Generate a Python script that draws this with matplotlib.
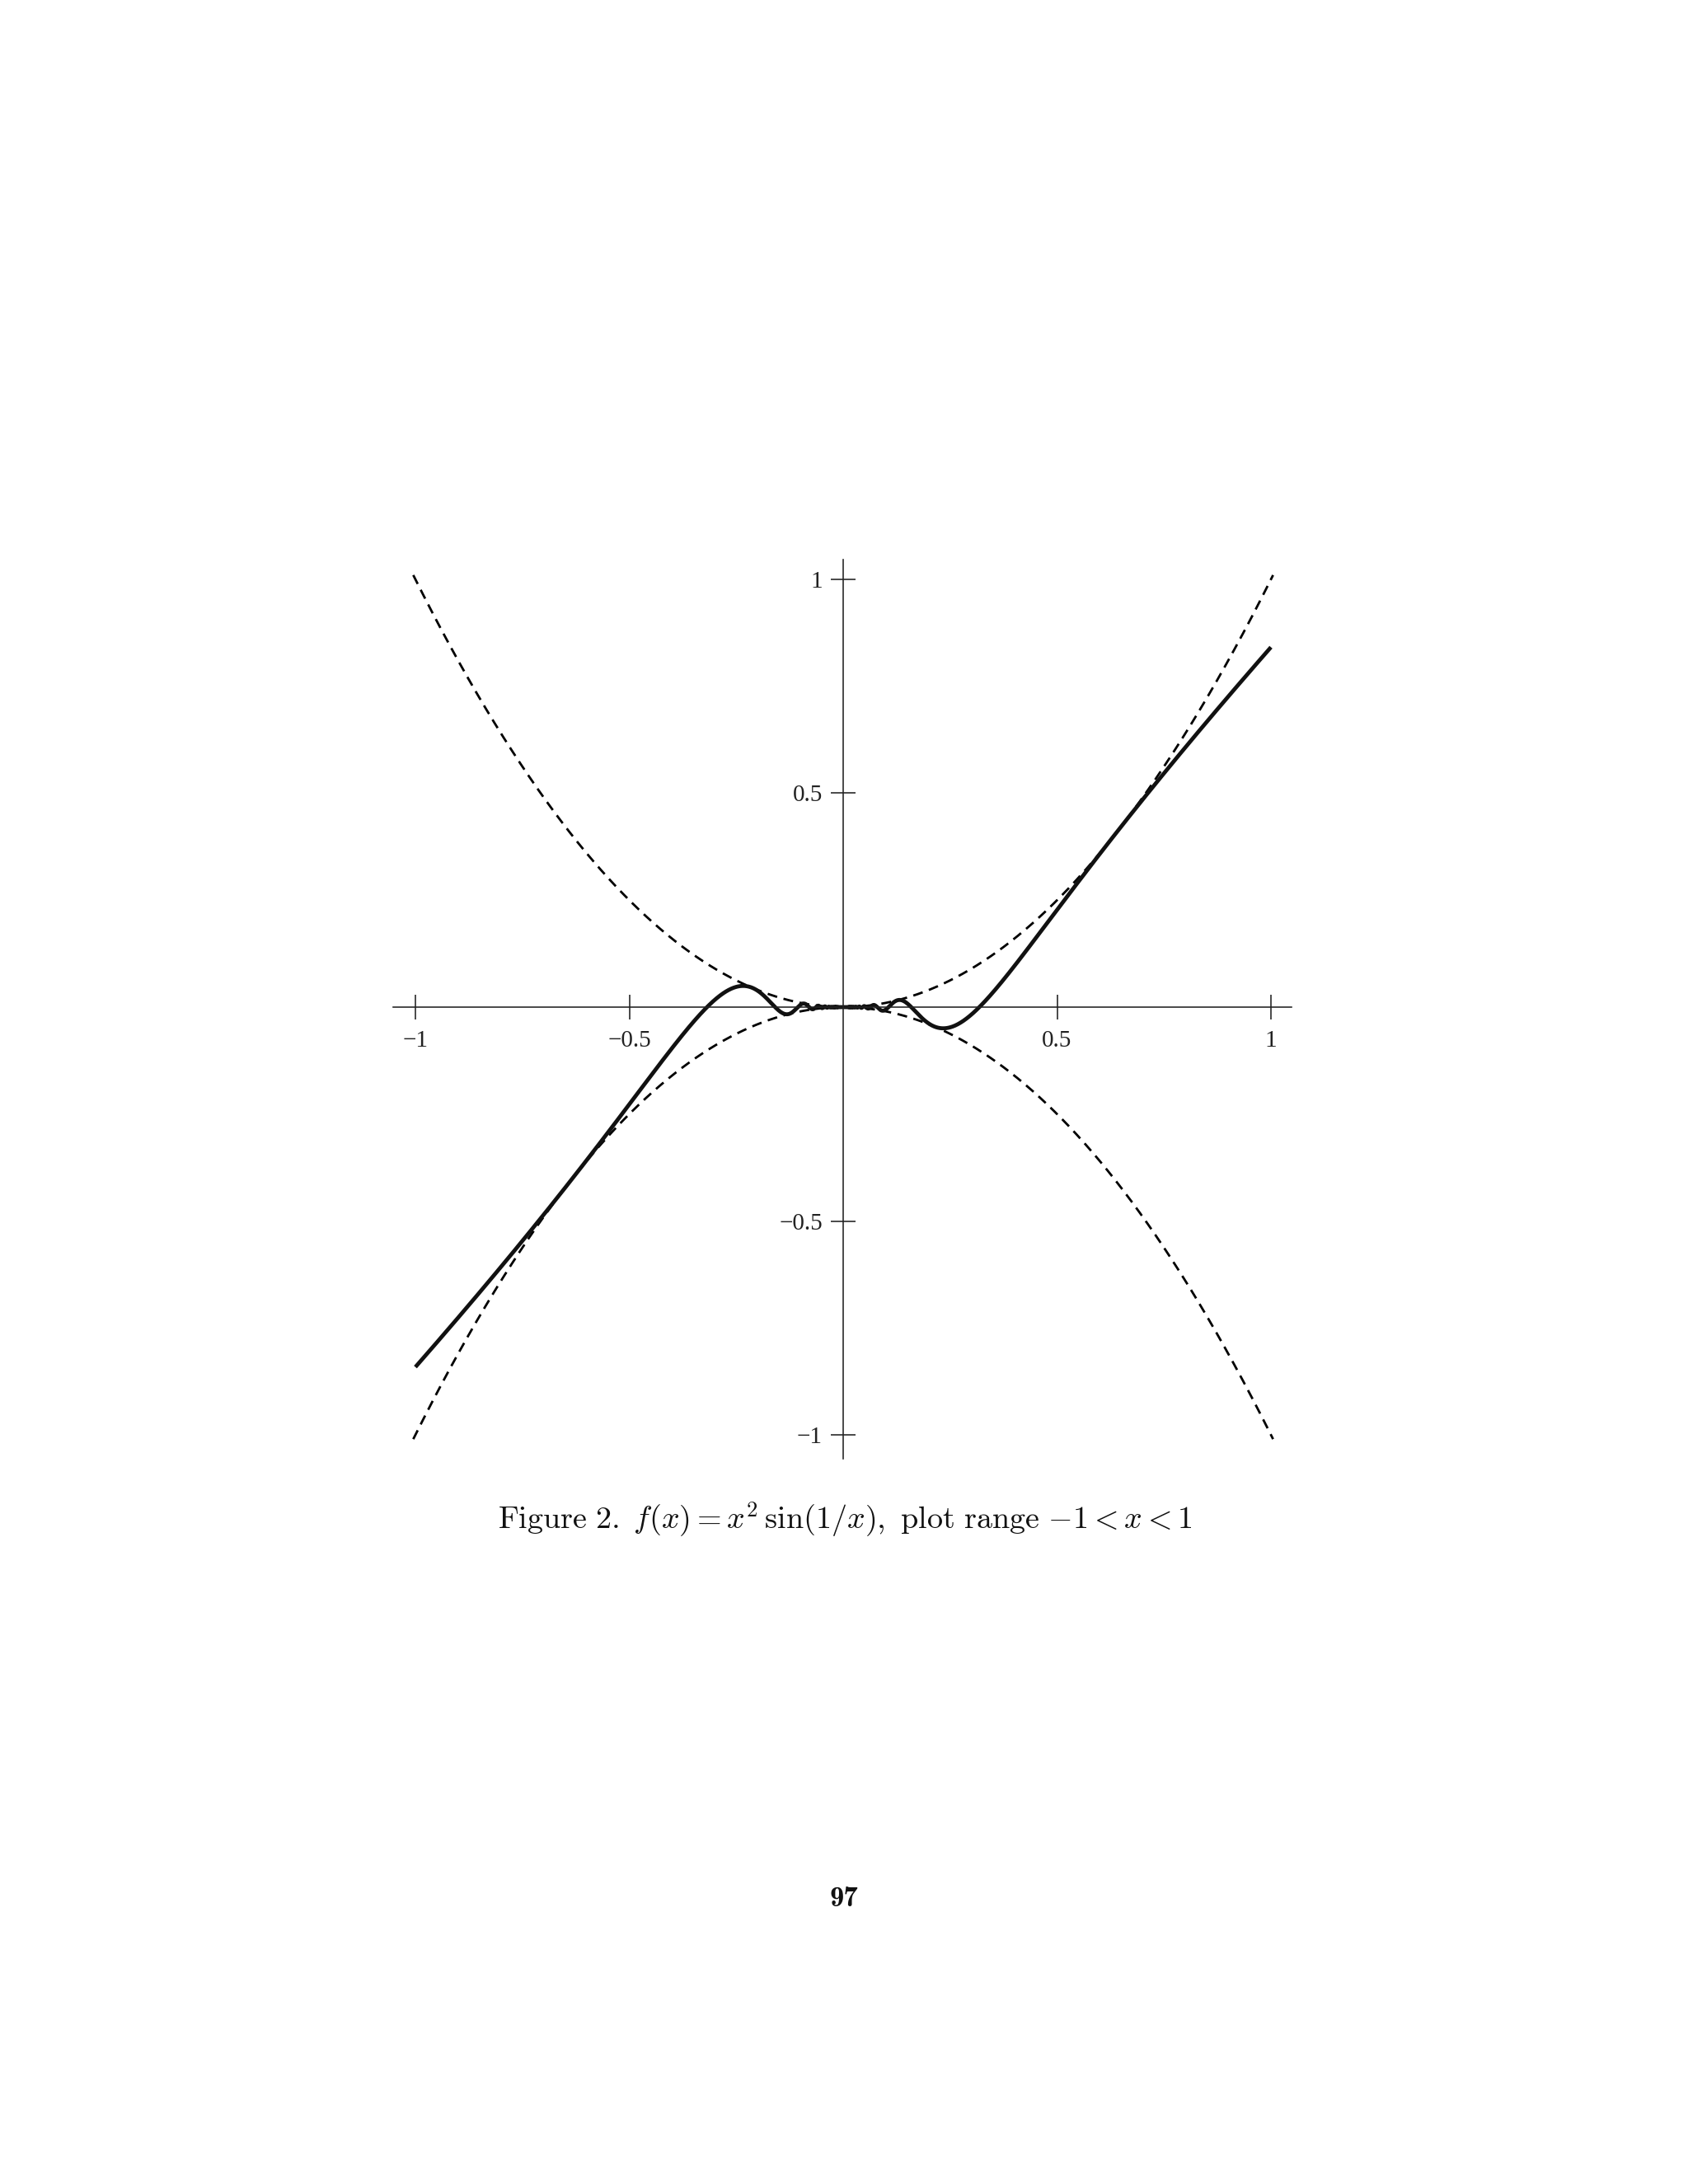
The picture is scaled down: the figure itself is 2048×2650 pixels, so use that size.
import numpy as np
import matplotlib
matplotlib.use("Agg")
import matplotlib.pyplot as plt

# ---- data ----
x_curve = np.linspace(-1.0, 1.0, 40001)
x_curve = x_curve[x_curve != 0]
f_curve = x_curve**2 * np.sin(1.0 / x_curve)
x_env = np.linspace(-1.005, 1.005, 2001)
env_upper = x_env**2
env_lower = -x_env**2

xtick_vals = [-1, -0.5, 0.5, 1]
xtick_labels = ["\u22121", "\u22120.5", "0.5", "1"]
ytick_vals = [1, 0.5, -0.5, -1]
ytick_labels = ["1", "0.5", "\u22120.5", "\u22121"]

caption = (r"$\mathrm{Figure\ 2.}\; f(x) = x^2\,\sin(1/x),\ "
           r"\mathrm{plot\ range}\ {-1} < x < 1$")
page_no = "97"

# ---- figure ----
W, H, DPI = 2048, 2650, 100
fig = plt.figure(figsize=(W / DPI, H / DPI), dpi=DPI)
plt.rcParams['mathtext.fontset'] = 'cm'

unit = 519.0
x0_px, y0_px = 1023.0, 1222.0
lim = 1.1
left = (x0_px - lim * unit) / W
bottom = (H - y0_px - lim * unit) / H
ax = fig.add_axes([left, bottom, 2 * lim * unit / W, 2 * lim * unit / H])
ax.set_xlim(-lim, lim)
ax.set_ylim(-lim, lim)

px2pt = 72.0 / DPI
lw_dash = 2.8 * px2pt
lw_solid = 4.8 * px2pt
dash_pat = (12 * px2pt / lw_dash, 8 * px2pt / lw_dash)
ax.plot(x_env, env_upper, color="black", lw=lw_dash, dashes=dash_pat)
ax.plot(x_env, env_lower, color="black", lw=lw_dash, dashes=dash_pat)
ax.plot(x_curve, f_curve, color="#111111", lw=lw_solid, solid_capstyle="butt")

for s in ["top", "right"]:
    ax.spines[s].set_visible(False)
for s in ["left", "bottom"]:
    ax.spines[s].set_position(("data", 0))
    ax.spines[s].set_linewidth(1.6 * px2pt)
    ax.spines[s].set_color("#222222")
ax.spines["bottom"].set_bounds(-1.052, 1.048)
ax.spines["left"].set_bounds(-1.056, 1.046)

ax.set_xticks(xtick_vals)
ax.set_xticklabels(xtick_labels)
ax.set_yticks(ytick_vals)
ax.set_yticklabels(ytick_labels)
ax.tick_params(axis="both", direction="inout", length=30 * px2pt, width=1.6 * px2pt,
               color="#222222", labelsize=21)
ax.tick_params(axis="x", pad=13 * px2pt)
ax.tick_params(axis="y", pad=10 * px2pt)
for lab in ax.get_xticklabels() + ax.get_yticklabels():
    lab.set_fontfamily("Liberation Serif")
    lab.set_color("#222222")

ax.set_facecolor("none")
fig.text(0.5005, (H - 1855) / H, caption, ha="center", va="baseline", fontsize=27.5, color="#111111")
fig.text(0.5, (H - 2313) / H, page_no, ha="center", va="baseline", fontsize=25,
         fontfamily="cmb10", color="#111111")

fig.savefig("out.png", dpi=DPI, facecolor="white")
